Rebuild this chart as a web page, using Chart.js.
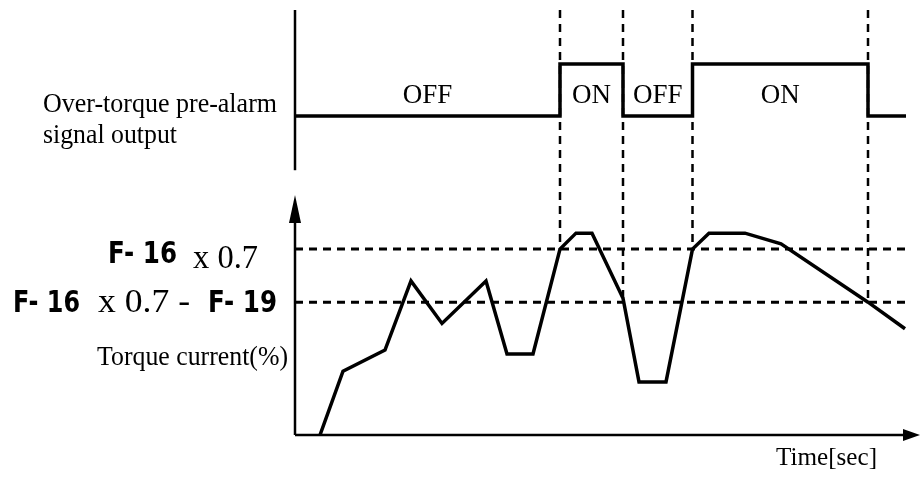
<!DOCTYPE html>
<html><head><meta charset="utf-8">
<script src="https://cdn.jsdelivr.net/npm/chart.js@4/dist/chart.umd.min.js"></script>
<style>html,body{margin:0;padding:0;background:#fff;} #wrap{width:921px;height:478px;}</style>
</head><body><div id="wrap"><canvas id="c" width="921" height="478"></canvas></div>
<script>
// Torque current curve (time units, torque %)
const torqueTime  = [5, 9.6, 18, 23.2, 29.4, 38.2, 42.4, 47.6, 53, 56.2, 59.4, 65.6, 68.8, 74.2, 79.5, 82.8, 90, 97.2, 114.6, 122];
const torqueValue = [0, 24, 32, 58, 42, 58, 30.5, 30.5, 70, 76, 76, 51.5, 20, 20, 70, 76, 76, 72, 50, 40];
// Over-torque pre-alarm signal output (0 = OFF, 1 = ON)
const signalTime  = [0, 53, 65.6, 79.5, 114.6, 122.2];
const signalState = [0, 1, 0, 1, 0, 0];
const signalLabels = ['OFF', 'ON', 'OFF', 'ON'];
// Thresholds
const alarmLevel = 70;    // F-16 x 0.7
const releaseLevel = 50;  // F-16 x 0.7 - F-19
const switchTorque = [70, 51.5, 70, 50];
const lineEnd = 122.2;

const BLACK = '#000';
const dash = [8, 6];

const datasets = [];
[alarmLevel, releaseLevel].forEach(v => datasets.push({
  data: [{x: 0, y: v}, {x: lineEnd, y: v}], yAxisID: 'y',
  borderColor: BLACK, borderWidth: 3, borderDash: dash, pointRadius: 0
}));
signalTime.slice(1, 5).forEach((t, i) => datasets.push({
  data: [{x: t, y: 160}, {x: t, y: switchTorque[i]}], yAxisID: 'y',
  borderColor: BLACK, borderWidth: 2.5, borderDash: dash, pointRadius: 0
}));
datasets.push({
  data: torqueTime.map((t, i) => ({x: t, y: torqueValue[i]})),
  yAxisID: 'y', borderColor: BLACK, borderWidth: 3.5, pointRadius: 0, tension: 0,
  borderJoinStyle: 'miter'
});
datasets.push({
  data: signalTime.map((t, i) => ({x: t, y: signalState[i]})),
  yAxisID: 'ySig', borderColor: BLACK, borderWidth: 3.5, pointRadius: 0, stepped: 'before'
});

function fitText(ctx, text, x, y, font, width, align) {
  ctx.save();
  ctx.font = font;
  const w = ctx.measureText(text).width;
  const s = width ? width / w : 1;
  ctx.translate(x, y);
  ctx.scale(s, 1);
  ctx.textAlign = align || 'left';
  ctx.textBaseline = 'alphabetic';
  ctx.fillStyle = BLACK;
  ctx.fillText(text, 0, 0);
  ctx.restore();
}

const decor = {
  id: 'decor',
  afterDraw(chart) {
    const ctx = chart.ctx;
    const xs = chart.scales.x, ys = chart.scales.y, ss = chart.scales.ySig;
    const x0 = xs.getPixelForValue(0);
    const y0 = ys.getPixelForValue(0);
    ctx.save();
    ctx.strokeStyle = BLACK; ctx.fillStyle = BLACK; ctx.lineWidth = 2.5;
    // signal axis
    ctx.beginPath();
    ctx.moveTo(x0, chart.chartArea.top);
    ctx.lineTo(x0, ss.getPixelForValue(-1.04));
    ctx.stroke();
    // torque axis with arrow
    const yTip = ys.getPixelForValue(90.4);
    ctx.beginPath(); ctx.moveTo(x0, y0); ctx.lineTo(x0, yTip + 20); ctx.stroke();
    ctx.beginPath(); ctx.moveTo(x0, yTip); ctx.lineTo(x0 - 6, yTip + 28); ctx.lineTo(x0 + 6, yTip + 28); ctx.closePath(); ctx.fill();
    // time axis with arrow
    const xTip = xs.getPixelForValue(125);
    ctx.beginPath(); ctx.moveTo(x0, y0); ctx.lineTo(xTip - 10, y0); ctx.stroke();
    ctx.beginPath(); ctx.moveTo(xTip, y0); ctx.lineTo(xTip - 17, y0 - 6); ctx.lineTo(xTip - 17, y0 + 6); ctx.closePath(); ctx.fill();
    ctx.restore();

    // ON / OFF labels
    const serif = '"Liberation Serif", "DejaVu Serif", serif';
    const labY = ss.getPixelForValue(0.25);
    signalLabels.forEach((lab, i) => {
      const cx = (xs.getPixelForValue(signalTime[i]) + xs.getPixelForValue(signalTime[i + 1])) / 2;
      fitText(ctx, lab, cx, labY, '27px ' + serif, 0, 'center');
    });

    // left labels
    fitText(ctx, 'Over-torque pre-alarm', 43, 112, '28px ' + serif, 234);
    fitText(ctx, 'signal output', 43, 143, '28px ' + serif, 134);
    fitText(ctx, 'Torque current(%)', 288, 365, '28px ' + serif, 191, 'right');
    fitText(ctx, 'Time[sec]', 877, 465, '25px ' + serif, 101, 'right');

    const dig = 'bold 30px "DejaVu Sans", sans-serif';
    const yA = ys.getPixelForValue(alarmLevel);
    const yR = ys.getPixelForValue(releaseLevel);
    fitText(ctx, 'F- 16', 108, yA + 14, dig, 69);
    fitText(ctx, 'x 0.7', 193, yA + 19, '33px ' + serif, 65);
    fitText(ctx, 'F- 16', 13, yR + 10, dig, 67);
    fitText(ctx, 'x 0.7 -', 98, yR + 10, '33px ' + serif, 92);
    fitText(ctx, 'F- 19', 208, yR + 10, dig, 69);
  }
};

new Chart(document.getElementById('c'), {
  type: 'line',
  data: { datasets },
  options: {
    responsive: false, animation: false, devicePixelRatio: 1,
    layout: { padding: { left: 295, right: 1, top: 10, bottom: 43 } },
    plugins: { legend: { display: false }, tooltip: { enabled: false } },
    scales: {
      x: { type: 'linear', min: 0, max: 125, display: false },
      y: { min: 0, max: 160, display: false },
      ySig: { min: -6.13, max: 2.04, display: false }
    }
  },
  plugins: [decor]
});
</script>
</body></html>
